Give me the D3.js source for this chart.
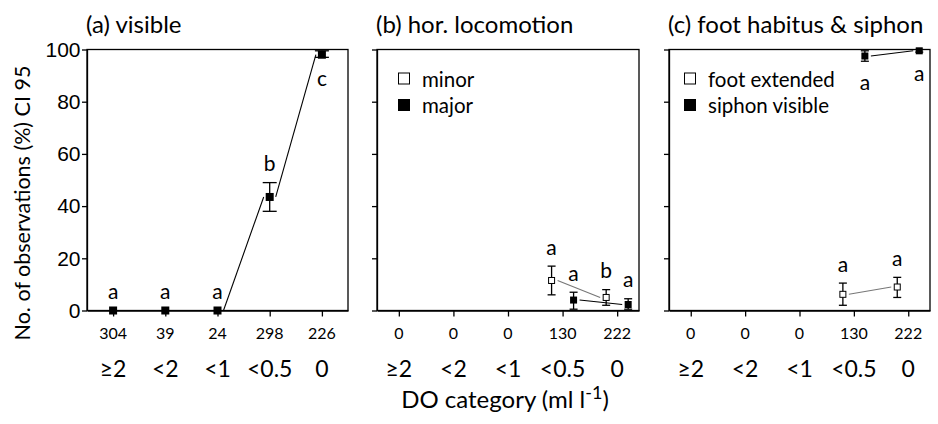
<!DOCTYPE html>
<html>
<head>
<meta charset="utf-8">
<script src="https://cdn.jsdelivr.net/npm/d3@7"></script>
<style>
  body { margin: 0; background: #fff; }
  svg { display: block; font-family: Lato, "Open Sans", sans-serif; }
  .axis path, .axis line { stroke: #000; stroke-width: 1.3; }
</style>
</head>
<body>
<div id="chart"></div>
<script>
// DO categories and number of observations per category
const categories = ["≥2", "<2", "<1", "<0.5", "0"];
const countsA = [304, 39, 24, 298, 226];
const countsBC = [0, 0, 0, 130, 222];

// (a) visible
const visMean = [0, 0, 0, 43.5, 98];
const visLow = [0, 0, 0, 38, 97];
const visHigh = [0, 0, 0, 49, 99.5];
const visLetters = ["a", "a", "a", "b", "c"];

// (b) hor. locomotion (only the two lowest DO categories observed)
const locoCats = ["<0.5", "0"];
const minorMean = [11.5, 5];
const minorLow = [6, 2];
const minorHigh = [17, 8];
const minorLetters = ["a", "b"];
const majorMean = [4, 2.3];
const majorLow = [0.5, 0.5];
const majorHigh = [7, 4.5];
const majorLetters = ["a", "a"];

// (c) foot habitus & siphon
const footMean = [6.2, 9];
const footLow = [2, 5];
const footHigh = [10.5, 12.7];
const footLetters = ["a", "a"];
const siphonMean = [97.5, 99.5];
const siphonLow = [95.5, 99];
const siphonHigh = [99.5, 100];
const siphonLetters = ["a", "a"];

const yTicks = [0, 20, 40, 60, 80, 100];

const width = 938, height = 424;
const plotTop = 49.5, plotBottom = 310.5;

const svg = d3.select("#chart").append("svg")
    .attr("width", width)
    .attr("height", height);

svg.append("rect").attr("width", width).attr("height", height).attr("fill", "#fff");

const y = d3.scaleLinear().domain([0, 100]).range([plotBottom, plotTop]);

function makePanel(x0, x1, pad, title, showYLabels) {
    const x = d3.scalePoint().domain(categories).range([x0, x1]).padding(pad);
    const g = svg.append("g");

    // frame
    g.append("rect")
        .attr("x", x0).attr("y", plotTop)
        .attr("width", x1 - x0).attr("height", plotBottom - plotTop)
        .attr("fill", "none").attr("stroke", "#000").attr("stroke-width", 1.3);

    const yAxis = g.append("g")
        .attr("class", "axis")
        .attr("transform", `translate(${x0},0)`)
        .call(d3.axisLeft(y).tickValues(yTicks).tickSize(5).tickSizeOuter(0).tickPadding(1.5)
            .tickFormat(showYLabels ? d3.format("d") : ""));
    yAxis.selectAll("text").style("font-size", "21px").attr("fill", "#000");

    const xAxis = g.append("g")
        .attr("class", "axis")
        .attr("transform", `translate(0,${plotBottom})`)
        .call(d3.axisBottom(x).tickSize(6).tickSizeOuter(0).tickFormat(""));
    xAxis.select("path").attr("stroke-width", 1.8);

    g.append("text")
        .attr("x", x0 - 1).attr("y", 33)
        .style("font-size", "24px")
        .text(title);

    g.append("g").selectAll("text")
        .data(categories)
        .join("text")
        .attr("x", d => x(d))
        .attr("y", 368)
        .attr("text-anchor", "middle")
        .attr("dominant-baseline", "central")
        .style("font-size", "23px")
        .text(d => d);

    return {g, x};
}

function countLabels(p, counts) {
    p.g.append("g").selectAll("text")
        .data(counts)
        .join("text")
        .attr("x", (d, i) => p.x(categories[i]))
        .attr("y", 332)
        .attr("text-anchor", "middle")
        .attr("dominant-baseline", "central")
        .style("font-size", "16px")
        .text(d => d);
}

// draws one series: connecting segments with gaps, error bars, markers, letters
function series(p, cats, mean, low, high, letters, opt) {
    const pts = cats.map((c, i) => ({
        x: p.x(c) + opt.dx, m: mean[i], lo: low[i], hi: high[i], l: letters[i]
    }));
    const gap = 6;
    const segs = d3.pairs(pts).slice(opt.lineFrom || 0);
    p.g.append("g").selectAll("line")
        .data(segs)
        .join("line")
        .attr("x1", d => d[0].x + gap).attr("y1", d => y(d[0].m))
        .attr("x2", d => d[1].x - gap).attr("y2", d => y(d[1].m))
        .attr("stroke", opt.lineColor).attr("stroke-width", 1.1);

    const eb = p.g.append("g").selectAll("g")
        .data(pts.filter(d => d.hi > d.lo))
        .join("g")
        .attr("stroke", "#000").attr("stroke-width", 1.3);
    eb.append("line")
        .attr("x1", d => d.x).attr("x2", d => d.x)
        .attr("y1", d => y(d.lo)).attr("y2", d => y(d.hi));
    eb.append("line")
        .attr("x1", d => d.x - opt.cap / 2).attr("x2", d => d.x + opt.cap / 2)
        .attr("y1", d => y(d.lo)).attr("y2", d => y(d.lo));
    eb.append("line")
        .attr("x1", d => d.x - opt.cap / 2).attr("x2", d => d.x + opt.cap / 2)
        .attr("y1", d => y(d.hi)).attr("y2", d => y(d.hi));

    p.g.append("g").selectAll("rect")
        .data(pts)
        .join("rect")
        .attr("x", d => d.x - opt.size / 2)
        .attr("y", d => y(d.m) - opt.size / 2)
        .attr("width", opt.size).attr("height", opt.size)
        .attr("fill", opt.filled ? "#000" : "#fff")
        .attr("stroke", "#000").attr("stroke-width", opt.filled ? 0 : 1);

    p.g.append("g").selectAll("text")
        .data(pts)
        .join("text")
        .attr("x", d => d.x)
        .attr("y", (d, i) => (opt.below || (opt.belowLast && i === pts.length - 1))
            ? y(d.lo) + 20 : y(d.hi) - 20)
        .attr("text-anchor", "middle")
        .attr("dominant-baseline", "central")
        .style("font-size", "21px")
        .text(d => d.l);
}

function legend(p, x0, items) {
    const lg = p.g.append("g").selectAll("g")
        .data(items)
        .join("g")
        .attr("transform", (d, i) => `translate(${x0},${78.5 + i * 26.5})`);
    lg.append("rect")
        .attr("x", 0.5).attr("y", -5.5).attr("width", 11).attr("height", 11)
        .attr("fill", d => d.filled ? "#000" : "#fff")
        .attr("stroke", "#000").attr("stroke-width", 1);
    lg.append("text")
        .attr("x", 24).attr("y", 0)
        .attr("dominant-baseline", "central")
        .style("font-size", "20.5px")
        .text(d => d.name);
}

// panel (a)
const pa = makePanel(87, 348, 0.5, "(a) visible", true);
countLabels(pa, countsA);
series(pa, categories, visMean, visLow, visHigh, visLetters,
    {dx: 0, size: 8, cap: 14, filled: true, lineColor: "#000", lineFrom: 2, belowLast: true});

// panel (b)
const pb = makePanel(377, 639, 0.4, "(b) hor. locomotion", false);
countLabels(pb, countsBC);
series(pb, locoCats, minorMean, minorLow, minorHigh, minorLetters,
    {dx: -11, size: 6, cap: 8, filled: false, lineColor: "#777"});
series(pb, locoCats, majorMean, majorLow, majorHigh, majorLetters,
    {dx: 11, size: 7, cap: 8, filled: true, lineColor: "#000"});
legend(pb, 398, [{name: "minor", filled: false}, {name: "major", filled: true}]);

// panel (c)
const pc = makePanel(669, 930, 0.4, "(c) foot habitus & siphon", false);
countLabels(pc, countsBC);
series(pc, locoCats, footMean, footLow, footHigh, footLetters,
    {dx: -11, size: 6, cap: 8, filled: false, lineColor: "#777"});
series(pc, locoCats, siphonMean, siphonLow, siphonHigh, siphonLetters,
    {dx: 11, size: 7, cap: 8, filled: true, lineColor: "#000", below: true});
legend(pc, 684, [{name: "foot extended", filled: false}, {name: "siphon visible", filled: true}]);

// axis titles
svg.append("text")
    .attr("transform", "translate(22,203) rotate(-90)")
    .attr("text-anchor", "middle")
    .attr("dominant-baseline", "central")
    .style("font-size", "21.5px")
    .text("No. of observations (%) CI 95");

const xt = svg.append("text")
    .attr("x", 505).attr("y", 408)
    .attr("text-anchor", "middle")
    .style("font-size", "24px");
xt.append("tspan").text("DO category (ml l");
xt.append("tspan").attr("dy", -9).style("font-size", "18px").text("-1");
xt.append("tspan").attr("dy", 9).text(")");
</script>
</body>
</html>
